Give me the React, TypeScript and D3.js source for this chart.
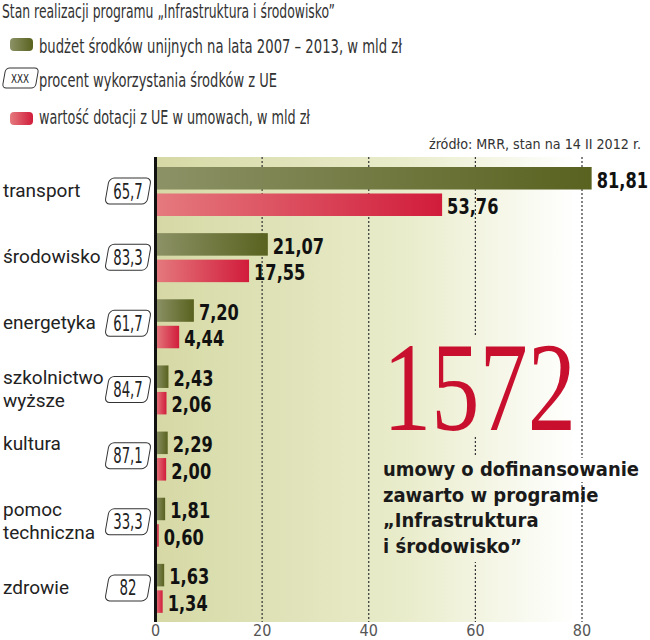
import React from 'react'
import * as d3 from 'd3'

// data
const categories = ['transport', 'środowisko', 'energetyka', 'szkolnictwo wyższe', 'kultura', 'pomoc techniczna', 'zdrowie']
const labelLines = [['transport'], ['środowisko'], ['energetyka'], ['szkolnictwo', 'wyższe'], ['kultura', ''], ['pomoc', 'techniczna'], ['zdrowie']]
const budget = [81.81, 21.07, 7.2, 2.43, 2.29, 1.81, 1.63]
const contracted = [53.76, 17.55, 4.44, 2.06, 2.0, 0.6, 1.34]
const usage = ['65,7', '83,3', '61,7', '84,7', '87,1', '33,3', '82']
const xTicks = [0, 20, 40, 60, 80]
const seriesKeys = ['budget', 'contracted']

const title = 'Stan realizacji programu „Infrastruktura i środowisko”'
const legendItems = [
  'budżet środków unijnych na lata 2007 – 2013, w mld zł',
  'procent wykorzystania środków z UE',
  'wartość dotacji z UE w umowach, w mld zł',
]
const source = 'źródło: MRR, stan na 14 II 2012 r.'
const bigNumber = '1572'
const noteLines = ['umowy o dofinansowanie', 'zawarto w programie', '„Infrastruktura', 'i środowisko”']

const W = 650
const H = 640
const plotTop = 157
const plotBottom = 622

const COND = '"DejaVu Sans Condensed", "Liberation Sans Narrow", sans-serif'
const fmt = (v: number) => d3.format('.2f')(v).replace('.', ',')
// narrow the condensed digits to the width of the original face
const numWidth = (s: string, digit: number, sep: number) =>
  s.split('').reduce((w, ch) => w + (ch === ',' ? sep : digit), 0)

const App: React.FC = () => {
  const x = d3.scaleLinear().domain([0, 80]).range([155.5, 582])
  const y = d3.scaleBand<string>().domain(categories).range([158, 621])
  const sub = d3.scaleBand<string>().domain(seriesKeys).range([9, 58]).paddingInner(0.15)
  const bh = sub.bandwidth()

  // bold value label, squeezed horizontally like the original condensed face
  const valueLabel = (v: number, x0: number, y0: number) => (
    <text transform={`translate(${x0},${y0}) scale(0.82,1)`} fontFamily={COND} fontWeight="bold" fontSize={22} fill="#111">{fmt(v)}</text>
  )

  return (
    <svg width={W} height={H} style={{ display: 'block', position: 'absolute', left: 0, top: 0 }}>
      <style>{`body{margin:0}`}</style>
      <defs>
        <linearGradient id="bg" gradientUnits="userSpaceOnUse" x1={x(0)} x2={W} y1="0" y2="0">
          <stop offset="0" stopColor="#d6d9a5" />
          <stop offset="0.5" stopColor="#e9ecca" />
          <stop offset="0.85" stopColor="#ffffff" />
        </linearGradient>
        <linearGradient id="green" x1="0" x2="1" y1="0" y2="0">
          <stop offset="0" stopColor="#8c9266" />
          <stop offset="1" stopColor="#59621f" />
        </linearGradient>
        <linearGradient id="red" x1="0" x2="1" y1="0" y2="0">
          <stop offset="0" stopColor="#e57a7e" />
          <stop offset="1" stopColor="#d11c3b" />
        </linearGradient>
      </defs>

      {/* title + legend */}
      <text x={2} y={18} fontFamily={COND} fontSize={20} fill="#333" textLength={333} lengthAdjust="spacingAndGlyphs">{title}</text>
      <rect x={10} y={38} width={23} height={13} rx={4} fill="url(#green)" />
      <text x={39} y={53} fontFamily={COND} fontSize={20} fill="#333" textLength={363} lengthAdjust="spacingAndGlyphs">{legendItems[0]}</text>
      <g transform="translate(20,78) skewX(-10)">
        <rect x={-16} y={-10} width={33} height={20} rx={4} fill="#fff" stroke="#333" strokeWidth={1} />
      </g>
      <text x={20} y={83} textAnchor="middle" fontFamily={COND} fontSize={13} fill="#222" textLength={18} lengthAdjust="spacingAndGlyphs">XXX</text>
      <text x={39} y={87} fontFamily={COND} fontSize={20} fill="#333" textLength={238} lengthAdjust="spacingAndGlyphs">{legendItems[1]}</text>
      <rect x={10} y={112} width={23} height={13} rx={4} fill="url(#red)" />
      <text x={39} y={124} fontFamily={COND} fontSize={20} fill="#333" textLength={271} lengthAdjust="spacingAndGlyphs">{legendItems[2]}</text>
      <text x={641} y={149} textAnchor="end" fontFamily={COND} fontSize={14} fill="#333" textLength={212} lengthAdjust="spacingAndGlyphs">{source}</text>

      {/* plot background */}
      <rect x={x(0)} y={plotTop} width={W - x(0)} height={plotBottom - plotTop} fill="url(#bg)" />

      {/* grid */}
      {xTicks.filter(t => t > 0).map(t => (
        <line key={t} x1={x(t)} x2={x(t)} y1={plotTop} y2={plotBottom} stroke="#333" strokeWidth={1.2} strokeDasharray="2,2" />
      ))}

      {/* big annotation, with knock-outs that hide the grid behind it */}
      <rect x={380} y={336} width={198} height={101} fill="url(#bg)" />
      <rect x={380} y={456} width={198} height={106} fill="url(#bg)" />
      <rect x={578} y={458} width={66} height={24} fill="url(#bg)" />
      <text x={383} y={430} fontFamily='"Liberation Serif", "DejaVu Serif", serif' fontSize={126} fill="#c8102e" textLength={193} lengthAdjust="spacingAndGlyphs">{bigNumber}</text>
      {noteLines.map((l, i) => (
        <text key={l} x={383} y={476 + i * 25.5} fontFamily={COND} fontWeight="bold" fontSize={20} fill="#1a1a1a"
          textLength={i === 0 ? 256 : undefined} lengthAdjust="spacingAndGlyphs">{l}</text>
      ))}

      {/* bars */}
      {categories.map((c, i) => {
        const y0 = y(c)!
        const cy = y0 + y.bandwidth() / 2
        const yb = y0 + sub('budget')!
        const yc = y0 + sub('contracted')!
        const lines = labelLines[i]
        return (
          <g key={c}>
            <rect x={x(0)} y={yb} width={x(budget[i]) - x(0)} height={bh} fill="url(#green)" />
            <rect x={x(0)} y={yc} width={x(contracted[i]) - x(0)} height={bh} fill="url(#red)" />
            {valueLabel(budget[i], x(budget[i]) + 5, yb + bh - 2)}
            {valueLabel(contracted[i], x(contracted[i]) + 5, yc + bh - 2)}
            {lines.map((l, j) => (
              <text key={j} x={3} y={lines.length === 1 ? cy + 6 : cy - 6 + j * 23} fontFamily="Roboto, sans-serif" fontSize={19} fill="#222">{l}</text>
            ))}
            <g transform={`translate(128,${cy}) skewX(-10)`}>
              <rect x={-21} y={-13} width={42} height={26} rx={5} fill="#fff" stroke="#333" strokeWidth={1} />
            </g>
            <text x={128} y={cy + 7.5} textAnchor="middle" fontFamily={COND} fontSize={21} fill="#222"
              textLength={numWidth(usage[i], 8.5, 4)} lengthAdjust="spacingAndGlyphs">{usage[i]}</text>
          </g>
        )
      })}

      {/* axis */}
      <line x1={x(0)} x2={x(0)} y1={plotTop} y2={plotBottom} stroke="#111" strokeWidth={3} />
      {xTicks.map(t => (
        <text key={t} x={x(t)} y={636} textAnchor="middle" fontFamily={COND} fontSize={16} fill="#555">{t}</text>
      ))}
    </svg>
  )
}

export default App
